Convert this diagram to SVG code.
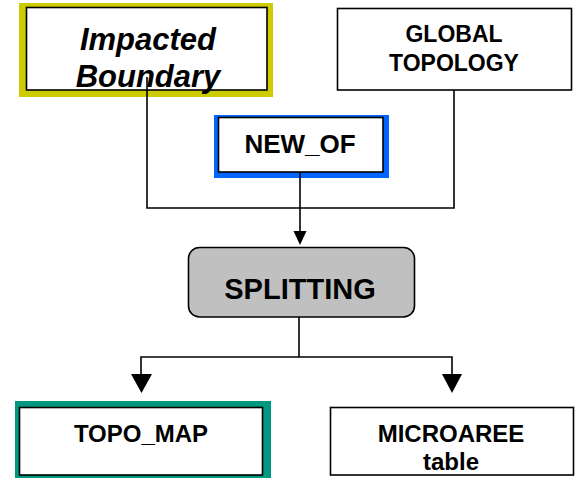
<svg xmlns="http://www.w3.org/2000/svg" width="575" height="478" viewBox="0 0 575 478">
<style>
.box{fill:#ffffff;stroke:#000000;stroke-width:1.6}
.t{font-family:"Liberation Sans",Arial,sans-serif;font-weight:bold;text-anchor:middle;fill:#000000}
.ln{fill:none;stroke:#000000;stroke-width:1.6}
.ah{fill:#000000;stroke:none}
</style>
<rect width="575" height="478" fill="#ffffff"/>
<g id="node-impacted">
<rect x="19" y="3" width="254" height="94" fill="#CCCC00"/>
<rect class="box" x="26.5" y="7.5" width="240.5" height="82.5"/>
<text class="t" x="148" y="50" font-size="31" font-style="italic">Impacted</text>
<text class="t" x="148" y="87" font-size="31" font-style="italic">Boundary</text>
</g>
<g id="node-global">
<rect class="box" x="337.5" y="8.5" width="234" height="81.5"/>
<text class="t" x="454" y="42" font-size="23">GLOBAL</text>
<text class="t" x="454" y="71" font-size="23">TOPOLOGY</text>
</g>
<g id="node-newof">
<rect x="214" y="115" width="175" height="63" fill="#0066FF"/>
<rect class="box" x="218.5" y="117.5" width="164.5" height="54.5"/>
<text class="t" x="300" y="153" font-size="26">NEW_OF</text>
</g>
<g id="node-splitting">
<rect x="188.5" y="247.5" width="226" height="69.5" rx="11" ry="11" fill="#C0C0C0" stroke="#000000" stroke-width="1.6"/>
<text class="t" x="300" y="299" font-size="29">SPLITTING</text>
</g>
<g id="node-topomap">
<rect x="15" y="401" width="256" height="77" fill="#009980"/>
<rect class="box" x="19.5" y="407.5" width="243" height="67.5"/>
<text class="t" x="141" y="442" font-size="24">TOPO_MAP</text>
</g>
<g id="node-microaree">
<rect class="box" x="330.5" y="407.5" width="243" height="67.5"/>
<text class="t" x="451" y="442" font-size="24">MICROAREE</text>
<text class="t" x="451" y="470" font-size="24">table</text>
</g>
<g id="connectors">
<polyline class="ln" points="147,77 147,208 300,208"/>
<polyline class="ln" points="454,90 454,208 300,208"/>
<line class="ln" x1="300" y1="172" x2="300" y2="233"/>
<polygon class="ah" points="293.5,231 306.5,231 300,245"/>
<polyline class="ln" points="299,317 299,357"/>
<polyline class="ln" points="141,376 141,357 452,357 452,376"/>
<polygon class="ah" points="131,374 152,374 141.5,393"/>
<polygon class="ah" points="442,374 462,374 452,393"/>
</g>
</svg>
